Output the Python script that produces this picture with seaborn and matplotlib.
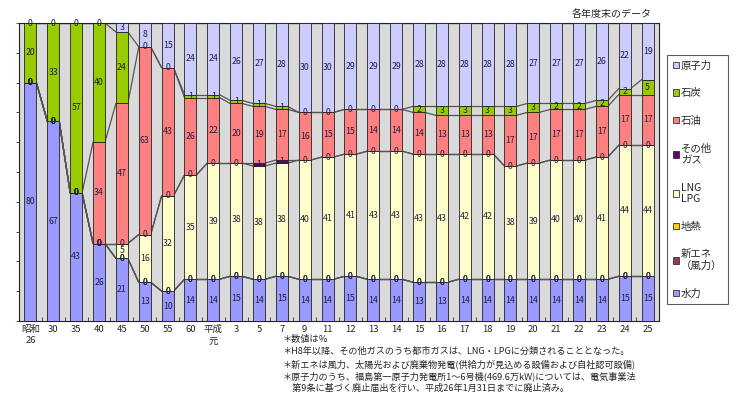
import numpy as np
import pandas as pd
import matplotlib
matplotlib.use('Agg')
import matplotlib.pyplot as plt
from matplotlib.patches import Patch
import seaborn as sns

sns.set_style('white')
plt.rcParams['font.family'] = ['Noto Sans CJK JP', 'DejaVu Sans']

years = ['昭和\n26', '30', '35', '40', '45', '50', '55', '60', '平成\n元', '3', '5', '7', '9', '11',
         '12', '13', '14', '15', '16', '17', '18', '19', '20', '21', '22', '23', '24', '25']

# stacked bottom -> top
hydro = [80, 67, 43, 26, 21, 13, 10, 14, 14, 15, 14, 15, 14, 14, 15, 14, 14, 13, 13, 14, 14, 14, 14, 14, 14, 14, 15, 15]
new_energy = [0, 0, 0, 0, 0, 0, 0, 0, 0, 0, 0, 0, 0, 0, 0, 0, 0, 0, 0, 0, 0, 0, 0, 0, 0, 0, 0, 0]
geothermal = [0, 0, 0, 0, 0, 0, 0, 0, 0, 0, 0, 0, 0, 0, 0, 0, 0, 0, 0, 0, 0, 0, 0, 0, 0, 0, 0, 0]
lng_lpg = [0, 0, 0, 0, 5, 16, 32, 35, 39, 38, 38, 38, 40, 41, 41, 43, 43, 43, 43, 42, 42, 38, 39, 40, 40, 41, 44, 44]
other_gas = [0, 0, 0, 0, 0, 0, 0, 0, 0, 0, 1, 1, 0, 0, 0, 0, 0, 0, 0, 0, 0, 0, 0, 0, 0, 0, 0, 0]
oil = [0, 0, 0, 34, 47, 63, 43, 26, 22, 20, 19, 17, 16, 15, 15, 14, 14, 14, 13, 13, 13, 17, 17, 17, 17, 17, 17, 17]
coal = [20, 33, 57, 40, 24, 0, 0, 1, 1, 1, 1, 1, 0, 0, 0, 0, 0, 2, 3, 3, 3, 3, 3, 2, 2, 2, 2, 5]
nuclear = [0, 0, 0, 0, 3, 8, 15, 24, 24, 26, 27, 28, 30, 30, 29, 29, 29, 28, 28, 28, 28, 28, 27, 27, 27, 26, 22, 19]

series = [
    ('水力', hydro, '#9999ff'),
    ('新エネ\n（風力）', new_energy, '#993366'),
    ('地熱', geothermal, '#ffcc00'),
    ('LNG\nLPG', lng_lpg, '#ffffcc'),
    ('その他\nガス', other_gas, '#660066'),
    ('石油', oil, '#ff8080'),
    ('石炭', coal, '#99cc00'),
    ('原子力', nuclear, '#ccccff'),
]

notes = [
    '＊数値は％',
    '＊H8年以降、その他ガスのうち都市ガスは、LNG・LPGに分類されることとなった。',
    '＊新エネは風力、太陽光および廃棄物発電(供給力が見込める設備および自社認可設備)',
    '＊原子力のうち、福島第一原子力発電所1～6号機(469.6万kW)については、電気事業法',
    '　第9条に基づく廃止届出を行い、平成26年1月31日までに廃止済み。',
]

W, H = 741, 399
fig = plt.figure(figsize=(W / 100, H / 100), dpi=100)
ax = fig.add_axes([19 / W, 1 - 321 / H, 640 / W, 298 / H])
ax.set_facecolor('#dadada')

bw = 0.52
cum = np.zeros(len(years))
levels = []
for name, vals, col in series:
    df = pd.DataFrame({'year': years, 'value': vals})
    sns.barplot(data=df, x='year', y='value', order=years, bottom=cum.copy(), color=col,
                saturation=1, width=bw, edgecolor='#222222', linewidth=0.6,
                errorbar=None, ax=ax, zorder=3)
    ax.bar_label(ax.containers[-1], labels=[str(v) for v in vals], label_type='center',
                 fontsize=6.3, color='#202040', zorder=5)
    cum = cum + np.array(vals)
    levels.append(cum.copy())

# series connector lines between neighbouring bars
for lev in levels:
    for i in range(len(years) - 1):
        ax.plot([i + bw / 2, i + 1 - bw / 2], [lev[i], lev[i + 1]], color='#555555', lw=0.9, zorder=2)

ax.set_xlim(-0.5, len(years) - 0.5)
ax.set_ylim(0, 100)
ax.set_xlabel('')
ax.set_ylabel('')
ax.set_yticks(range(0, 101, 10))
ax.set_yticklabels([])
ax.tick_params(axis='y', length=2.5, width=0.6, direction='out', color='#333333', left=True)
ax.set_xticks(range(len(years)))
ax.set_xticklabels(years, fontsize=6.8, linespacing=1.3)
ax.tick_params(axis='x', length=0, pad=3)
ax.set_xticks(np.arange(0.5, len(years) - 1, 1), minor=True)
ax.tick_params(axis='x', which='minor', length=3, width=0.6, direction='in', color='#333333', bottom=True)
for s in ax.spines.values():
    s.set_color('#222222')
    s.set_linewidth(0.8)
    s.set_visible(True)

handles = [Patch(facecolor=col, edgecolor='#333333', linewidth=0.6, label=name)
           for name, vals, col in series[::-1]]
leg = fig.legend(handles=handles, loc='upper left', bbox_to_anchor=(667 / W, 1 - 55 / H),
                 fontsize=7.5, frameon=True, fancybox=False, handlelength=0.6, handleheight=0.6,
                 handletextpad=0.2, labelspacing=1.68, borderpad=0.55, borderaxespad=0)
leg.get_frame().set_edgecolor('#333333')
leg.get_frame().set_linewidth(0.8)

fig.text(652 / W, 1 - 14 / H, '各年度末のデータ', ha='right', va='center', fontsize=7.2)

for t, yy in zip(notes, [339, 351, 364, 376, 388]):
    fig.text(283 / W, 1 - yy / H, t, ha='left', va='center', fontsize=6.6)

fig.savefig('out.png', dpi=100)
